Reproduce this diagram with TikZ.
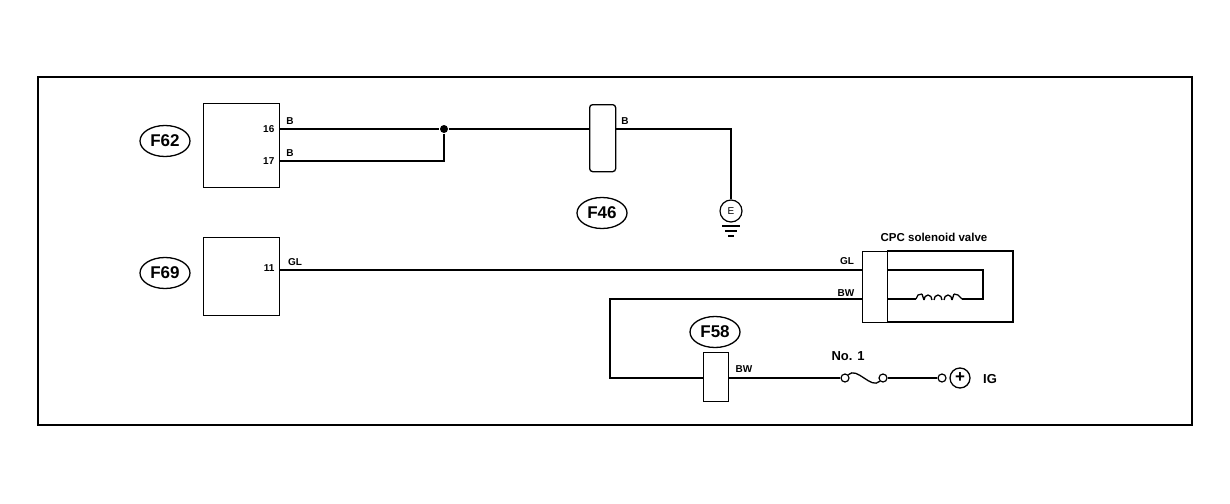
\documentclass[tikz,border=0pt]{standalone}
\usepackage{fontspec}
\setmainfont{Liberation Sans}
\usetikzlibrary{shapes.geometric}
\begin{document}
\begin{tikzpicture}[x=1pt,y=-1pt,line width=1.3pt,
 box/.style={draw,line width=1.3pt},
 conn/.style={draw,ellipse,line width=1.3pt,inner sep=1pt,minimum width=50pt,minimum height=31pt,font=\bfseries\fontsize{17}{17}\selectfont},
 lbl/.style={font=\bfseries\fontsize{10}{10}\selectfont,inner sep=0pt},
 term/.style={draw,circle,fill=white,line width=1.2pt,inner sep=0pt,minimum size=8pt}]
\useasboundingbox (0,0) rectangle (1230,503);
\draw (38,77) rectangle (1192,425);
% F62
\node[box,minimum width=76pt,minimum height=84pt,anchor=north west] (f62) at (203,103) {};
\node[conn] (f62l) at (165,141) {F62};
\node[lbl,anchor=east] at (275,129) {16};
\node[lbl,anchor=east] at (275,161) {17};
\node[lbl] at (290,121) {B};
\node[lbl] at (290,153) {B};
\coordinate (p16) at (279,129);
\coordinate (p17) at (279,161);
\node[circle,fill,inner sep=0pt,minimum size=8pt] (j) at (444,129) {};
\draw (p16) -- (j);
\draw (p17) -| (j);
% F46
\node[box,rounded corners=3pt,minimum width=26pt,minimum height=67pt,anchor=north west] (f46) at (589,104) {};
\node[conn] (f46l) at (602,213) {F46};
\draw (j) -- (589,129);
\node[lbl] at (625,121) {B};
\node[draw,circle,line width=1.2pt,minimum size=22pt,inner sep=0pt,font=\fontsize{10}{10}\selectfont] (E) at (731,211) {E};
\draw (615,129) -| (E.north);
\draw (722,226) -- (740,226) (725,231) -- (737,231) (728,236) -- (734,236);
% F69
\node[box,minimum width=76pt,minimum height=78pt,anchor=north west] (f69) at (203,237) {};
\node[conn] (f69l) at (165,273) {F69};
\node[lbl,anchor=east] at (275,268) {11};
\node[lbl] at (295,262) {GL};
% CPC
\node[box,minimum width=25pt,minimum height=71pt,anchor=north west] (cpcc) at (862,251) {};
\draw (887,251) -- (1013,251) -- (1013,322) -- (887,322);
\node[lbl,font=\bfseries\fontsize{11.5}{11.5}\selectfont] at (934,237) {CPC solenoid valve};
\draw (279,270) -- (862,270);
\node[lbl] at (847,261) {GL};
\node[lbl] at (846,293) {BW};
\draw (887,270) -- (983,270) -- (983,299) -- (962,299);
\draw (887,299) -- (916,299);
\draw (916,299) -- (918,295) -- (922,294);
\foreach \i in {0,1,2} \draw (924+\i*10,300) arc (180:0:4pt and 5pt);
\draw (954,294) -- (958,295) -- (962,299);
\draw (922,294) -- (924,300);
\draw (952,300) -- (954,294);
% F58
\node[box,minimum width=25pt,minimum height=49pt,anchor=north west] (f58) at (703,352) {};
\node[conn] (f58l) at (715,332) {F58};
\draw (862,299) -- (610,299) -- (610,378) -- (703,378);
\node[lbl] at (744,369) {BW};
\node[term] (t1) at (845,378) {};
\node[term] (t2) at (883,378) {};
\node[term] (t3) at (942,378) {};
\draw (728,378) -- (t1);
\draw (t1) .. controls (857,366) and (871,390) .. (t2);
\draw (t2) -- (t3);
\node[lbl,font=\bfseries\fontsize{13}{13}\selectfont] at (848,356) {No. 1};
\node[draw,circle,line width=1.3pt,minimum size=20pt,inner sep=0pt,font=\bfseries\fontsize{17}{17}\selectfont] (ig) at (960,378) {+};
\node[lbl,font=\bfseries\fontsize{13}{13}\selectfont] at (990,379) {IG};
\end{tikzpicture}
\end{document}
